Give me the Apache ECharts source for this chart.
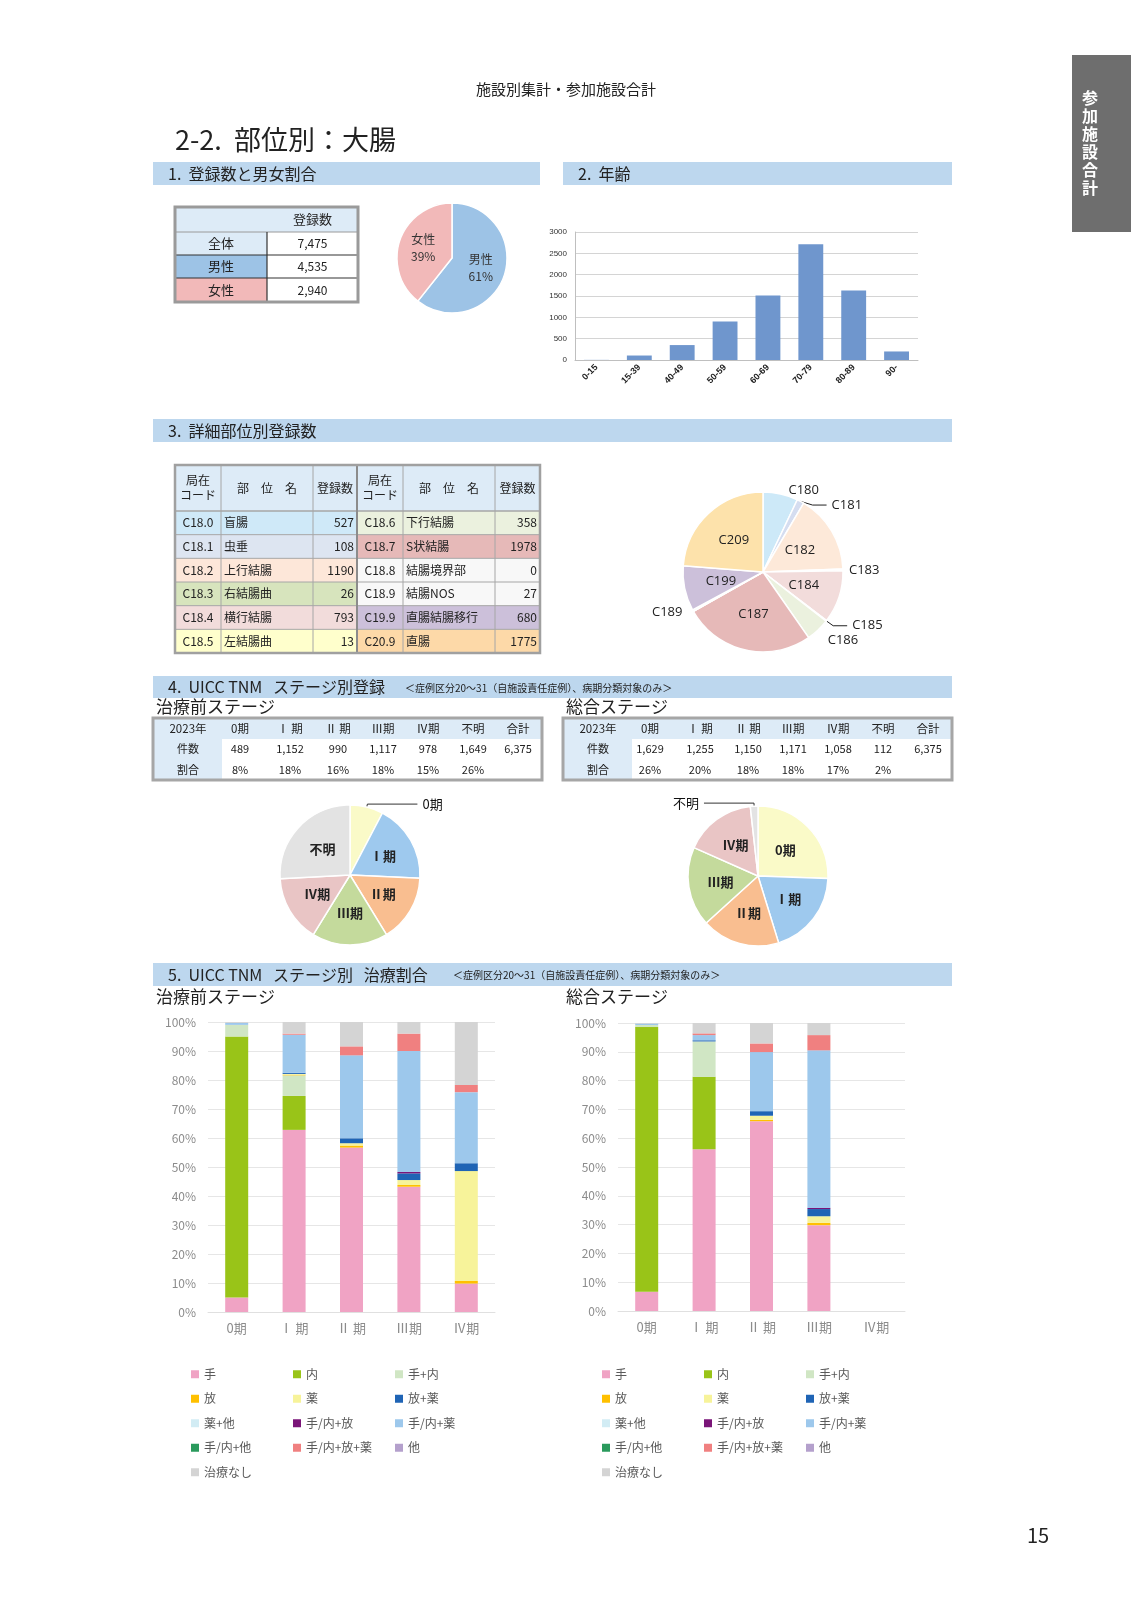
<!DOCTYPE html>
<html><head><meta charset="utf-8">
<script src="https://cdn.jsdelivr.net/npm/echarts@6/dist/echarts.min.js"></script>
<style>html,body{margin:0;padding:0;background:#fff}#page{width:1131px;height:1600px}</style>
</head><body><div id="page"></div>
<script>
const FONT = '"Noto Sans CJK JP", "Noto Sans", sans-serif';

// ---------- data ----------
const genderLabels = ['男性', '女性'];
const genderCounts = [4535, 2940];
const genderTotal = 7475;

const ageCategories = ['0-15', '15-39', '40-49', '50-59', '60-69', '70-79', '80-89', '90-'];
const ageCounts = [3, 105, 350, 900, 1510, 2710, 1630, 200];
const ageTicks = [0, 500, 1000, 1500, 2000, 2500, 3000];

const siteCodes = ['C18.0', 'C18.1', 'C18.2', 'C18.3', 'C18.4', 'C18.5', 'C18.6', 'C18.7', 'C18.8', 'C18.9', 'C19.9', 'C20.9'];
const siteNames = ['盲腸', '虫垂', '上行結腸', '右結腸曲', '横行結腸', '左結腸曲', '下行結腸', 'S状結腸', '結腸境界部', '結腸NOS', '直腸結腸移行', '直腸'];
const siteCounts = [527, 108, 1190, 26, 793, 13, 358, 1978, 0, 27, 680, 1775];
const sitePieLabels = ['C180', 'C181', 'C182', 'C183', 'C184', 'C185', 'C186', 'C187', 'C188', 'C189', 'C199', 'C209'];

const stageNames = ['0期', 'Ⅰ期', 'Ⅱ期', 'Ⅲ期', 'Ⅳ期', '不明'];
const stageHeaders = ['2023年', '0期', 'Ⅰ 期', 'Ⅱ 期', 'Ⅲ期', 'Ⅳ期', '不明', '合計'];
const preStageCounts = [489, 1152, 990, 1117, 978, 1649];
const preStageShares = [8, 18, 16, 18, 15, 26];
const totStageCounts = [1629, 1255, 1150, 1171, 1058, 112];
const totStageShares = [26, 20, 18, 18, 17, 2];
const stageTotal = 6375;

const treatStages = ['0期', 'Ⅰ 期', 'Ⅱ 期', 'Ⅲ期', 'Ⅳ期'];
const treatNames = ['手', '内', '手+内', '放', '薬', '放+薬', '薬+他', '手/内+放', '手/内+薬', '手/内+他', '手/内+放+薬', '他', '治療なし'];
// percent per treatment (rows) for stages 0,I,II,III,IV (columns)
const preTreatShares = [
  [5, 62.8, 56.7, 43.2, 9.8],
  [90, 11.7, 0, 0, 0],
  [4, 7.1, 0, 0, 0],
  [0, 0.2, 0.7, 0.6, 0.9],
  [0, 0.3, 0.8, 1.7, 37.9],
  [0, 0.4, 1.7, 2.3, 2.7],
  [0, 0, 0, 0, 0],
  [0, 0, 0, 0.5, 0],
  [0.7, 13.1, 28.6, 41.7, 24.5],
  [0, 0, 0, 0, 0],
  [0, 0.4, 3.1, 6.0, 2.5],
  [0, 0, 0, 0, 0],
  [0.3, 4.0, 8.4, 4.0, 21.7]
];
const totTreatShares = [
  [6.7, 56.2, 65.9, 29.8, 0],
  [91.9, 25.1, 0, 0, 0],
  [0.7, 12.3, 0, 0, 0],
  [0, 0, 0.5, 0.8, 0],
  [0, 0, 1.4, 2.3, 0],
  [0, 0.4, 1.6, 2.5, 0],
  [0, 0, 0, 0, 0],
  [0, 0, 0, 0.4, 0],
  [0.5, 1.8, 20.5, 54.7, 0],
  [0, 0, 0, 0, 0],
  [0, 0.6, 3.0, 5.3, 0],
  [0, 0, 0, 0, 0],
  [0.2, 3.6, 7.1, 4.2, 0]
];

// ---------- styles ----------
const genderColors = ['#9dc3e6', '#f2b9b9'];
const siteRowColors = ['#cfe9f8', '#dde5f1', '#fde7d9', '#d7e4bd', '#f2dcdb', '#ffffcc', '#ebf1de', '#e6b9b8', '#f8f8f8', '#f8f8f8', '#ccc0da', '#fdd9a8'];
const sitePieColors = ['#cde9f8', '#d5ddf0', '#fde9d9', '#d7e4bd', '#f2dcdb', '#ffffcc', '#ebf1de', '#e6b9b8', '#ffffff', '#f2f2f2', '#ccc0da', '#fde2ab'];
const siteLabelPlace = ['outside', 'outside', 'inside', 'outside', 'inside', 'outside', 'outside', 'inside', 'none', 'outside', 'inside', 'inside'];
const siteLeader = [false, true, false, false, false, true, false, false, false, false, false, false];
const stageColors = ['#fafac8', '#9ec9ee', '#f9be90', '#c4da9c', '#e9c5c5', '#e3e3e3'];
const treatColors = ['#f0a3c4', '#99c418', '#d0e6c4', '#ffc000', '#f7f39a', '#1f64b5', '#d2ecf4', '#7a1578', '#9dc8ec', '#2a9a5c', '#f08080', '#b4a0cc', '#d4d4d4'];

// ---------- graphic helpers ----------
const els = [];
function R(x, y, w, h, fill, stroke, lw) {
  els.push({ type: 'rect', silent: true, shape: { x, y, width: w, height: h },
    style: { fill: fill || 'none', stroke: stroke || null, lineWidth: lw || 0 } });
}
function L(x1, y1, x2, y2, stroke, lw) {
  els.push({ type: 'line', silent: true, shape: { x1, y1, x2, y2 }, style: { stroke, lineWidth: lw } });
}
function T(x, y, text, size, o) {
  o = o || {};
  els.push({ type: 'text', silent: true, x, y, z: 10,
    style: { text: String(text), fill: o.color || '#222', fontSize: size, fontFamily: FONT,
      fontWeight: o.weight || 'normal', textAlign: o.align || 'left', align: o.align || 'left',
      textVerticalAlign: 'middle', verticalAlign: 'middle', lineHeight: o.lh || Math.round(size * 1.2) } });
}
const fmt = v => v.toLocaleString('en-US');

// page header
T(566, 89, '施設別集計・参加施設合計', 15, { align: 'center' });
R(1072, 55, 59, 177, '#6e6e6e');
T(1090, 143, '参\n加\n施\n設\n合\n計', 16, { align: 'center', color: '#fff', weight: 'bold', lh: 18 });
T(175, 140, '2-2.  部位別：大腸', 27);
T(1038, 1535, '15', 20, { align: 'center' });

// section bars
R(153, 162, 387, 23, '#bdd7ee'); T(168, 173.5, '1.  登録数と男女割合', 16);
R(563, 162, 389, 23, '#bdd7ee'); T(578, 173.5, '2.  年齢', 16);
R(153, 419, 799, 23, '#bdd7ee'); T(168, 430.5, '3.  詳細部位別登録数', 16);
R(153, 676, 799, 22, '#bdd7ee'); T(168, 687, '4.  UICC TNM   ステージ別登録', 16);
T(405, 688, '＜症例区分20～31（自施設責任症例）、病期分類対象のみ＞', 10);
R(153, 963, 799, 23, '#bdd7ee'); T(168, 974.5, '5.  UICC TNM   ステージ別   治療割合', 16);
T(453, 975, '＜症例区分20～31（自施設責任症例）、病期分類対象のみ＞', 10);

// section 1 table
(function () {
  const x0 = 175, x1 = 267, x2 = 358, ys = [207, 232, 255, 278, 302];
  R(x0, ys[0], x2 - x0, ys[1] - ys[0], '#ddebf7');
  R(x0, ys[1], x1 - x0, ys[2] - ys[1], '#ddebf7');
  R(x0, ys[2], x1 - x0, ys[3] - ys[2], genderColors[0]);
  R(x0, ys[3], x1 - x0, ys[4] - ys[3], genderColors[1]);
  L(x0, ys[1], x2, ys[1], '#9a9a9a', 1);
  L(x0, ys[2], x2, ys[2], '#333', 1.2);
  L(x0, ys[3], x2, ys[3], '#333', 1.2);
  L(x1, ys[1], x1, ys[4], '#333', 1.2);
  R(x0, ys[0], x2 - x0, ys[4] - ys[0], null, '#9a9a9a', 3);
  const cx1 = (x0 + x1) / 2, cx2 = (x1 + x2) / 2;
  T(cx2, (ys[0] + ys[1]) / 2, '登録数', 13, { align: 'center' });
  T(cx1, (ys[1] + ys[2]) / 2, '全体', 13, { align: 'center' });
  T(cx2, (ys[1] + ys[2]) / 2, fmt(genderTotal), 12, { align: 'center' });
  for (let i = 0; i < 2; i++) {
    T(cx1, (ys[i + 2] + ys[i + 3]) / 2, genderLabels[i], 13, { align: 'center' });
    T(cx2, (ys[i + 2] + ys[i + 3]) / 2, fmt(genderCounts[i]), 12, { align: 'center' });
  }
})();

// section 3 table
(function () {
  const cols = [175, 221, 313, 357, 403, 495, 540];
  const top = 465, hb = 511, rh = (653 - 511) / 6;
  R(cols[0], top, cols[6] - cols[0], hb - top, '#ddebf7');
  for (let h = 0; h < 2; h++) {
    const c0 = cols[h * 3], c1 = cols[h * 3 + 1], c2 = cols[h * 3 + 2], c3 = cols[h * 3 + 3];
    T((c0 + c1) / 2, (top + hb) / 2, '局在\nコード', 12, { align: 'center', lh: 15 });
    T((c1 + c2) / 2, (top + hb) / 2, '部　位　名', 12, { align: 'center' });
    T((c2 + c3) / 2, (top + hb) / 2, '登録数', 12, { align: 'center' });
    for (let i = 0; i < 6; i++) {
      const k = h * 6 + i, y = hb + i * rh;
      R(c0, y, c3 - c0, rh, siteRowColors[k]);
      T((c0 + c1) / 2, y + rh / 2, siteCodes[k], 12, { align: 'center' });
      T(c1 + 3, y + rh / 2, siteNames[k], 12);
      T(c3 - 3, y + rh / 2, siteCounts[k], 12, { align: 'right' });
    }
  }
  for (let i = 0; i <= 6; i++) L(cols[0], hb + i * rh, cols[6], hb + i * rh, '#a6a6a6', i === 0 ? 1.5 : 1);
  cols.forEach((c, j) => L(c, top, c, 653, j === 3 ? '#8c8c8c' : '#a6a6a6', j === 3 ? 2 : 1));
  R(cols[0], top, cols[6] - cols[0], 653 - top, null, '#a0a0a0', 2.5);
})();

// section 4 tables
function stageTable(x0, counts, shares) {
  const ys = [718, 739, 759, 780], w = 389;
  const offs = [35, 87, 137, 185, 230, 275, 320, 365];
  R(x0, ys[0], w, ys[1] - ys[0], '#ddebf7');
  R(x0, ys[1], 69, ys[3] - ys[1], '#ddebf7');
  R(x0, ys[0], w, ys[3] - ys[0], null, '#a6a6a6', 3);
  const total = counts.reduce((a, b) => a + b, 0);
  const r1 = ['件数'].concat(counts.map(fmt), [fmt(total)]);
  const r2 = ['割合'].concat(shares.map(s => s + '%'), ['']);
  offs.forEach((o, j) => {
    T(x0 + o, (ys[0] + ys[1]) / 2, stageHeaders[j], 11.5, { align: 'center' });
    T(x0 + o, (ys[1] + ys[2]) / 2, r1[j], 11, { align: 'center' });
    T(x0 + o, (ys[2] + ys[3]) / 2, r2[j], 11, { align: 'center' });
  });
}
stageTable(153, preStageCounts, preStageShares);
stageTable(563, totStageCounts, totStageShares);
T(156, 707, '治療前ステージ', 17);
T(566, 707, '総合ステージ', 17);
T(156, 997, '治療前ステージ', 17);
T(566, 997, '総合ステージ', 17);

// ---------- chart ----------
const chart = echarts.init(document.getElementById('page'), null, { renderer: 'canvas', width: 1131, height: 1600 });

function stagePie(center, counts, outsideIdx) {
  return {
    type: 'pie', center, radius: 70, startAngle: 90, clockwise: true, avoidLabelOverlap: false,
    itemStyle: { borderColor: '#fff', borderWidth: 1.5 },
    label: { position: 'inside', formatter: '{b}', fontSize: 13, fontWeight: 'bold', color: '#222', fontFamily: FONT },
    labelLine: { show: false },
    data: counts.map((v, i) => ({
      name: stageNames[i], value: v, itemStyle: { color: stageColors[i] },
      label: i === outsideIdx ? { position: 'outside', fontWeight: 'normal', color: '#111' } : undefined,
      labelLine: i === outsideIdx ? { show: true, length: 3, length2: 50, lineStyle: { color: '#333', width: 1 } } : undefined
    }))
  };
}

function treatSeries(matrix, axisIdx, stack) {
  return treatNames.map((n, i) => ({
    type: 'bar', name: n, stack, xAxisIndex: axisIdx, yAxisIndex: axisIdx, barWidth: 23,
    itemStyle: { color: treatColors[i] }, emphasis: { disabled: true },
    data: matrix[i]
  }));
}

function treatLegend(left) {
  return {
    left, top: 1362, width: 312, orient: 'horizontal', itemGap: 0, itemWidth: 8, itemHeight: 8,
    icon: 'rect', padding: 0, selectedMode: false, data: treatNames,
    formatter: n => '{a|' + n + '}',
    textStyle: { rich: { a: { width: 89, height: 24.5, lineHeight: 24.5, fontSize: 12, color: '#595959', fontFamily: FONT } } }
  };
}

const pctAxis = (g) => ({
  gridIndex: g, type: 'value', min: 0, max: 100, interval: 10,
  axisLabel: { formatter: '{value}%', fontSize: 12, color: '#8c8c8c', fontFamily: FONT, margin: 12 },
  axisLine: { show: false }, axisTick: { show: false },
  splitLine: { lineStyle: { color: '#e6e6e6' } }
});
const stageAxis = (g) => ({
  gridIndex: g, type: 'category', data: treatStages,
  axisLabel: { fontSize: 13, color: '#8c8c8c', fontFamily: FONT, margin: 10 },
  axisLine: { lineStyle: { color: '#e0e0e0' } }, axisTick: { show: false }
});

const option = {
  animation: false,
  backgroundColor: '#fff',
  textStyle: { fontFamily: FONT },
  graphic: { elements: els },
  grid: [
    { left: 575, top: 232, width: 343, height: 128 },
    { left: 208, top: 1022, width: 287, height: 290 },
    { left: 618, top: 1023, width: 287, height: 288 }
  ],
  xAxis: [
    { gridIndex: 0, type: 'category', data: ageCategories,
      axisLabel: { rotate: 45, interval: 0, fontSize: 9, fontWeight: 'bold', color: '#222', margin: 6, fontFamily: 'Liberation Sans' },
      axisLine: { lineStyle: { color: '#bfbfbf' } }, axisTick: { show: false } },
    stageAxis(1), stageAxis(2)
  ],
  yAxis: [
    { gridIndex: 0, type: 'value', min: ageTicks[0], max: ageTicks[ageTicks.length - 1], interval: ageTicks[1] - ageTicks[0],
      axisLabel: { fontSize: 8, color: '#333', margin: 8, fontFamily: 'Liberation Sans', formatter: v => String(v) },
      axisLine: { show: true, lineStyle: { color: '#bfbfbf' } }, axisTick: { show: false },
      splitLine: { lineStyle: { color: '#d4d4d4' } } },
    pctAxis(1), pctAxis(2)
  ],
  legend: [treatLegend(191), treatLegend(602)],
  series: [
    { type: 'bar', xAxisIndex: 0, yAxisIndex: 0, data: ageCounts, barWidth: '58%',
      itemStyle: { color: '#6f96cd' }, emphasis: { disabled: true } },
    { type: 'pie', center: [452, 258], radius: 55, startAngle: 90, clockwise: true, percentPrecision: 0,
      itemStyle: { borderColor: '#fff', borderWidth: 1.5 },
      label: { position: 'inside', formatter: '{b}\n{d}%', fontSize: 12, lineHeight: 17, color: '#333', fontFamily: FONT },
      data: genderCounts.map((v, i) => ({ name: genderLabels[i], value: v, itemStyle: { color: genderColors[i] } })) },
    { type: 'pie', center: [763, 572], radius: 80, startAngle: 90, clockwise: true, avoidLabelOverlap: true,
      itemStyle: { borderColor: '#fff', borderWidth: 1.5 },
      label: { fontSize: 13, color: '#222', fontFamily: '"Open Sans", sans-serif' },
      data: siteCounts.map((v, i) => ({
        name: sitePieLabels[i], value: v, itemStyle: { color: sitePieColors[i] },
        label: siteLabelPlace[i] === 'none' ? { show: false } : { position: siteLabelPlace[i] },
        labelLine: siteLeader[i] ? { show: true, length: 8, length2: 14, lineStyle: { color: '#222', width: 1 } }
                                 : { show: false, length: 4, length2: 2 }
      })) },
    stagePie([350, 875], preStageCounts, 0),
    stagePie([758, 876], totStageCounts, 5)
  ].concat(treatSeries(preTreatShares, 1, 'pre'), treatSeries(totTreatShares, 2, 'tot'))
};
chart.setOption(option);
</script>
</body></html>
